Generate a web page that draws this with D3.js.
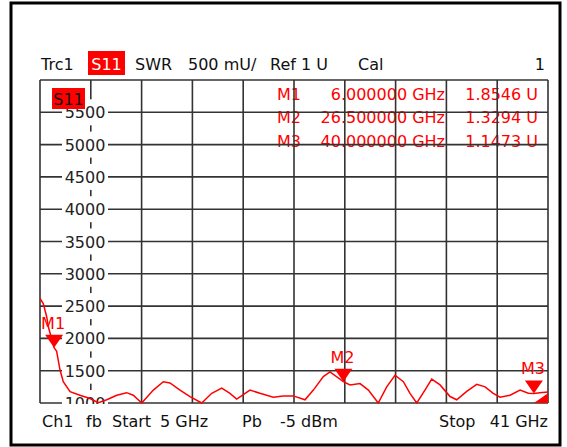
<!DOCTYPE html>
<html>
<head>
<meta charset="UTF-8" />
<title>Trc1 S11 SWR</title>
<script src="https://cdn.jsdelivr.net/npm/d3@7"></script>
<style>
	body { margin: 0; background: #fff; }
	svg text { font-family: "DejaVu Sans", sans-serif; font-size: 16px; }
</style>
</head>
<body>
<div id="chart"></div>
<script>
// trace: frequency (GHz) and SWR (U)
var freq = [5.0, 5.23, 5.47, 5.59, 6.0, 6.18, 6.42, 6.65, 7.13, 7.83, 8.54, 9.13, 9.73, 10.44, 11.14, 11.61,
	12.21, 13.03, 13.74, 14.21, 14.92, 15.63, 16.46, 17.17, 17.88, 18.46, 18.94, 19.88, 20.59, 21.53,
	22.24, 22.95, 23.78, 24.37, 25.08, 25.55, 26.5, 26.97, 27.68, 28.27, 28.97, 29.57, 30.16, 30.75,
	31.22, 31.70, 32.28, 32.76, 33.35, 34.06, 34.53, 35.24, 35.95, 36.54, 37.12, 37.60, 38.31, 39.02,
	39.61, 40.0, 40.43, 41.0];
var swr = [2.62, 2.54, 2.34, 2.18, 1.855, 1.80, 1.51, 1.33, 1.175, 1.12, 1.07, 1.005, 1.05, 1.12, 1.16, 1.12,
	1.0, 1.2, 1.33, 1.31, 1.2, 1.1, 1.0, 1.15, 1.23, 1.15, 1.06, 1.2, 1.15, 1.09,
	1.11, 1.11, 1.05, 1.2, 1.41, 1.48, 1.33, 1.28, 1.30, 1.2, 1.0, 1.25, 1.43, 1.33,
	1.15, 1.0, 1.2, 1.37, 1.28, 1.10, 1.05, 1.18, 1.29, 1.25, 1.15, 1.09, 1.12, 1.2,
	1.15, 1.147, 1.16, 1.17];

var markerNames = ["M1", "M2", "M3"];
var markerFreq = [6.0, 26.5, 40.0];
var markerVal = [1.8546, 1.3294, 1.1473];

var yTicks = [1, 1.5, 2, 2.5, 3, 3.5, 4, 4.5, 5, 5.5];   // labelled in mU
var yGrid = [1, 1.5, 2, 2.5, 3, 3.5, 4, 4.5, 5, 5.5, 6];
var xGrid = [5, 8.6, 12.2, 15.8, 19.4, 23, 26.6, 30.2, 33.8, 37.4, 41];

var W = 567, H = 447;
var L = 40, R = 548, T = 80, B = 403;

var svg = d3.select("#chart").append("svg")
	.attr("width", W).attr("height", H);

var x = d3.scaleLinear().domain([5, 41]).range([L, R]);
var y = d3.scaleLinear().domain([1, 6]).range([B, T]);

// outer frame
svg.append("rect")
	.attr("x", 11).attr("y", 3).attr("width", 549).attr("height", 442)
	.attr("fill", "none").attr("stroke", "#000").attr("stroke-width", 3);

// header line
var hdr = svg.append("g").attr("fill", "#111");
hdr.append("text").attr("x", 41).attr("y", 70).text("Trc1");
hdr.append("rect").attr("x", 88).attr("y", 51).attr("width", 37).attr("height", 24).attr("fill", "#f00");
hdr.append("text").attr("x", 106.5).attr("y", 70).attr("text-anchor", "middle").attr("fill", "#fff").text("S11");
hdr.append("text").attr("x", 135).attr("y", 70).text("SWR");
hdr.append("text").attr("x", 188).attr("y", 70).text("500 mU/");
hdr.append("text").attr("x", 270).attr("y", 70).text("Ref 1 U");
hdr.append("text").attr("x", 358).attr("y", 70).text("Cal");
hdr.append("text").attr("x", 545).attr("y", 70).attr("text-anchor", "end").text("1");

// clip for the diagram
svg.append("clipPath").attr("id", "plotclip")
	.append("rect").attr("x", L - 1).attr("y", T - 1).attr("width", R - L + 2).attr("height", B - T + 2);

// marker readout table (under the grid)
var tbl = svg.append("g").attr("fill", "#f00");
markerNames.forEach(function(m, i) {
	var by = 100 + i * 23.3;
	tbl.append("text").attr("x", 277).attr("y", by).text(m);
	tbl.append("text").attr("x", 445).attr("y", by).attr("text-anchor", "end")
		.text(markerFreq[i].toFixed(6) + " GHz");
	tbl.append("text").attr("x", 538).attr("y", by).attr("text-anchor", "end")
		.text(markerVal[i].toFixed(4) + " U");
});

// grid
var grid = svg.append("g").attr("stroke", "#333").attr("stroke-width", 1.6);
grid.selectAll(".vx").data(xGrid).enter().append("line")
	.attr("x1", function(d) { return x(d); }).attr("x2", function(d) { return x(d); })
	.attr("y1", T).attr("y2", B);
grid.selectAll(".hy").data(yGrid).enter().append("line")
	.attr("x1", L).attr("x2", R)
	.attr("y1", function(d) { return y(d); }).attr("y2", function(d) { return y(d); });

// y labels with white boxes
var yl = svg.append("g").attr("clip-path", "url(#plotclip)");
var lab = yl.selectAll(".yl").data(yTicks).enter().append("g");
lab.append("rect")
	.attr("x", 62).attr("width", 46)
	.attr("y", function(d) { return y(d) - 13; }).attr("height", 26)
	.attr("fill", "#fff");
lab.append("text")
	.attr("x", 85).attr("y", function(d) { return y(d) + 6; })
	.attr("text-anchor", "middle").attr("fill", "#222")
	.text(function(d) { return d3.format("d")(d * 1000); });

// S11 tag in the diagram
svg.append("rect").attr("x", 52).attr("y", 88).attr("width", 33).attr("height", 21).attr("fill", "#f00");
svg.append("text").attr("x", 68.5).attr("y", 105).attr("text-anchor", "middle").attr("fill", "#111").text("S11");

// trace
var plot = svg.append("g").attr("clip-path", "url(#plotclip)");
var line = d3.line()
	.x(function(d, i) { return x(freq[i]); })
	.y(function(d) { return y(d); });
plot.append("path").datum(swr)
	.attr("d", line)
	.attr("fill", "none").attr("stroke", "#f00").attr("stroke-width", 1.5);

// corner indicator
plot.append("path")
	.attr("d", "M" + x(40) + "," + y(1) + "L" + x(41) + "," + y(1) + "L" + x(41) + "," + y(1.15) + "Z")
	.attr("fill", "#f00");

// markers
var mk = svg.append("g").attr("fill", "#f00");
markerNames.forEach(function(m, i) {
	var mx = x(markerFreq[i]), my = y(markerVal[i]);
	mk.append("path")
		.attr("d", "M" + (mx - 9) + "," + (my - 13) + "L" + (mx + 9) + "," + (my - 13) + "L" + mx + "," + my + "Z");
	mk.append("text").attr("x", mx - 1).attr("y", my - 19).attr("text-anchor", "middle").text(m);
});

// footer line
var ftr = svg.append("g").attr("fill", "#111");
ftr.append("text").attr("x", 42).attr("y", 427).text("Ch1");
ftr.append("text").attr("x", 86).attr("y", 427).text("fb");
ftr.append("text").attr("x", 112).attr("y", 427).text("Start");
ftr.append("text").attr("x", 160).attr("y", 427).text("5 GHz");
ftr.append("text").attr("x", 242).attr("y", 427).text("Pb");
ftr.append("text").attr("x", 280).attr("y", 427).text("-5 dBm");
ftr.append("text").attr("x", 439).attr("y", 427).text("Stop");
ftr.append("text").attr("x", 548).attr("y", 427).attr("text-anchor", "end").text("41 GHz");
</script>
</body>
</html>
